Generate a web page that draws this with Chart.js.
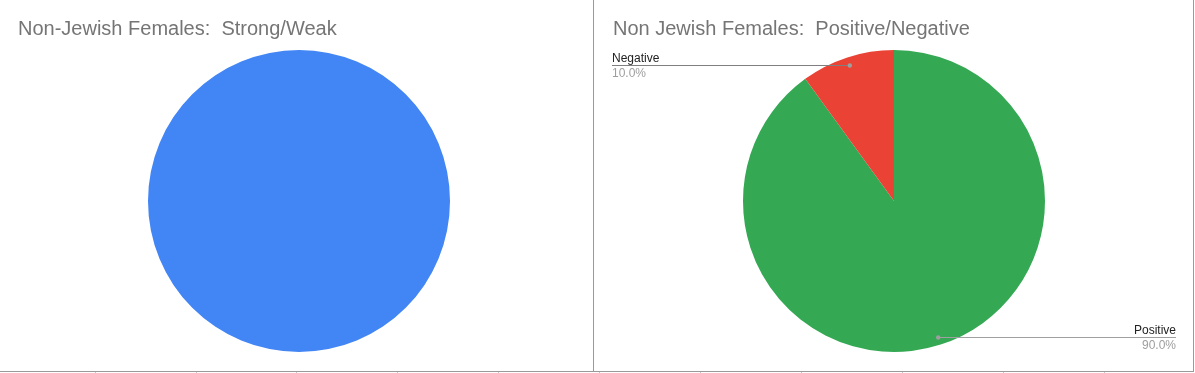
<!DOCTYPE html>
<html>
<head>
<meta charset="utf-8">
<script src="https://cdn.jsdelivr.net/npm/chart.js@4/dist/chart.umd.min.js"></script>
<style>
  html, body { margin: 0; padding: 0; background: #fff; }
  #wrap { position: relative; width: 1195px; height: 373px; overflow: hidden; }
  .panel { position: absolute; top: 0; height: 371px; background: #fff; }
  #p1 { left: 0; width: 593px; border-bottom: 1px solid #9a9a9a; }
  #p2 { left: 593px; width: 599px; border-left: 1px solid #9a9a9a; border-right: 1px solid #9a9a9a; border-bottom: 1px solid #9a9a9a; }
  .tick { position: absolute; top: 372px; width: 1px; height: 1px; background: #c8c8c8; }
</style>
</head>
<body>
<div id="wrap">
  <div class="panel" id="p1"><canvas id="c1" width="593" height="371"></canvas></div>
  <div class="panel" id="p2"><canvas id="c2" width="599" height="371"></canvas></div>
  <div class="tick" style="left:95px"></div>
  <div class="tick" style="left:196px"></div>
  <div class="tick" style="left:296px"></div>
  <div class="tick" style="left:397px"></div>
  <div class="tick" style="left:498px"></div>
  <div class="tick" style="left:599px"></div>
  <div class="tick" style="left:700px"></div>
  <div class="tick" style="left:801px"></div>
  <div class="tick" style="left:902px"></div>
  <div class="tick" style="left:1003px"></div>
  <div class="tick" style="left:1104px"></div>
</div>
<script>
// ---- data ----
const strengthTitle = "Non-Jewish Females:  Strong/Weak";
const strengthLabels = ["Strong"];
const strengthValues = [100];
const strengthColors = ["#4285F4"];

const polarityTitle = "Non Jewish Females:  Positive/Negative";
const polarityLabels = ["Positive", "Negative"];
const polarityValues = [90, 10];
const polarityColors = ["#34A853", "#EA4335"];

const FONT = "Arial, 'Liberation Sans', Helvetica, sans-serif";

const titlePlugin = {
  id: 'sheetTitle',
  afterDraw(chart, args, opts) {
    const ctx = chart.ctx;
    ctx.save();
    ctx.font = "20px " + FONT;
    ctx.fillStyle = "#757575";
    ctx.textAlign = "left";
    ctx.textBaseline = "alphabetic";
    ctx.fillText(opts.text, opts.x, 35);
    ctx.restore();
  }
};

const calloutPlugin = {
  id: 'callouts',
  afterDatasetsDraw(chart, args, opts) {
    if (!opts.enabled) return;
    const ctx = chart.ctx;
    const meta = chart.getDatasetMeta(0);
    const data = chart.data.datasets[0].data;
    const total = data.reduce((a, b) => a + b, 0);
    const W = chart.width;
    meta.data.forEach((arc, i) => {
      const p = arc.getProps(['x', 'y', 'startAngle', 'endAngle', 'outerRadius'], true);
      const mid = (p.startAngle + p.endAngle) / 2;
      const r = p.outerRadius * 0.947;
      const dx = p.x + Math.cos(mid) * r;
      const dy = p.y + Math.sin(mid) * r;
      const left = dx < p.x;
      const endX = left ? 18 : W - 17;
      ctx.save();
      ctx.strokeStyle = left ? "#7f7f7f" : "#a0a0a0";
      ctx.lineWidth = 1;
      ctx.beginPath();
      ctx.moveTo(dx, Math.round(dy) + 0.5);
      ctx.lineTo(endX, Math.round(dy) + 0.5);
      ctx.stroke();
      ctx.fillStyle = "#9e9e9e";
      ctx.beginPath();
      ctx.arc(dx, Math.round(dy) + 0.5, 2.2, 0, Math.PI * 2);
      ctx.fill();
      ctx.font = "12px " + FONT;
      ctx.textAlign = left ? "left" : "right";
      ctx.textBaseline = "alphabetic";
      ctx.fillStyle = "#222222";
      ctx.fillText(chart.data.labels[i], endX, Math.round(dy) - 3);
      ctx.fillStyle = "#9e9e9e";
      ctx.fillText((data[i] / total * 100).toFixed(1) + "%", endX, Math.round(dy) + 12);
      ctx.restore();
    });
  }
};

function makePie(id, labels, values, colors, title, titleX, pad, callouts) {
  return new Chart(document.getElementById(id), {
    type: 'pie',
    data: {
      labels: labels,
      datasets: [{ data: values, backgroundColor: colors, borderWidth: 0 }]
    },
    options: {
      responsive: false,
      animation: false,
      layout: { padding: pad },
      plugins: {
        legend: { display: false },
        tooltip: { enabled: false },
        title: { display: false },
        sheetTitle: { text: title, x: titleX },
        callouts: { enabled: callouts }
      }
    },
    plugins: [titlePlugin, calloutPlugin]
  });
}

makePie('c1', strengthLabels, strengthValues, strengthColors, strengthTitle, 18,
  { top: 50, bottom: 19, left: 148, right: 143 }, false);
makePie('c2', polarityLabels, polarityValues, polarityColors, polarityTitle, 19,
  { top: 50, bottom: 19, left: 149, right: 148 }, true);
</script>
</body>
</html>
